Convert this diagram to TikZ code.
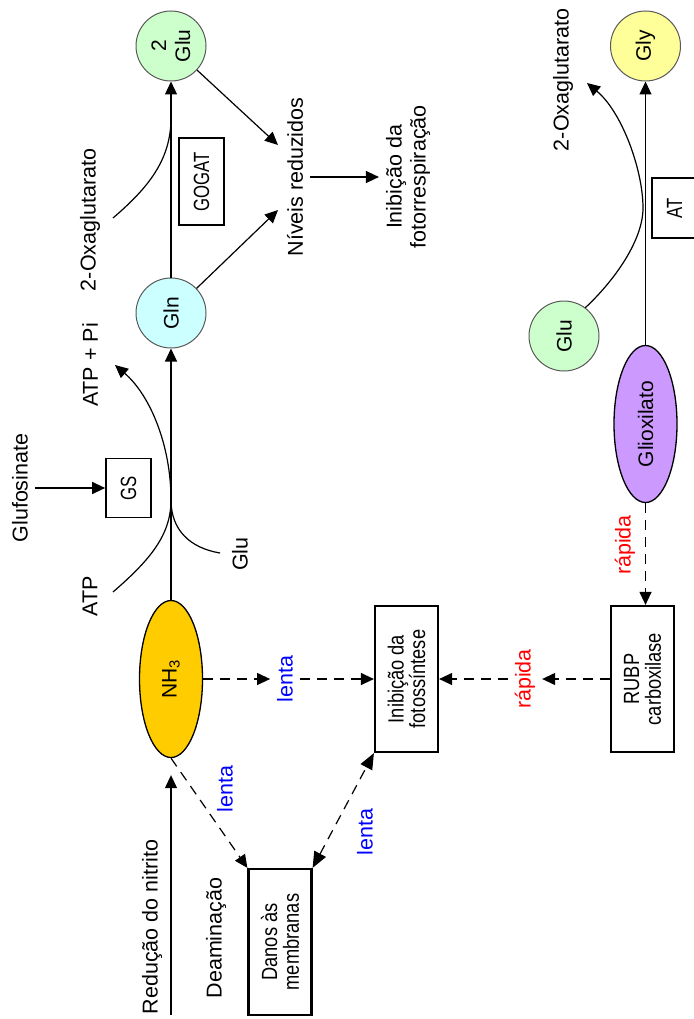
\documentclass[tikz,border=0pt]{standalone}
\usepackage{fontspec}
\setmainfont{Liberation Sans}
\newfontfamily\boxfont[FakeStretch=0.83]{Liberation Sans}
\newfontfamily\enzfont[FakeStretch=0.76]{Liberation Sans}
\usetikzlibrary{arrows.meta,shapes.geometric}
\definecolor{gluGreen}{HTML}{CCFFCC}
\definecolor{glnCyan}{HTML}{CCFFFF}
\definecolor{glyYellow}{HTML}{FFFF99}
\definecolor{nhGold}{HTML}{FFCC00}
\definecolor{glxViolet}{HTML}{CC99FF}
\begin{document}
\begin{tikzpicture}[x=1pt,y=-1pt]
      \tikzstyle{txt} = [rotate=90, inner sep=0pt, outer sep=7pt, align=center, font=\fontsize{21.5}{24}\selectfont]
      \tikzstyle{slow} = [txt, text=blue]
      \tikzstyle{fast} = [txt, text=red]
      \tikzstyle{metab} = [circle, rotate=90, minimum size=70pt, inner sep=0pt, draw=black!65, line width=1pt, align=center, font=\fontsize{21}{24}\selectfont]
      \tikzstyle{pool} = [ellipse, rotate=90, minimum width=157pt, minimum height=63pt, inner sep=0pt, draw=black, line width=1.3pt, font=\fontsize{21}{24}\selectfont]
      \tikzstyle{bigbox} = [rectangle, rotate=90, minimum width=146pt, minimum height=63pt, inner sep=0pt, draw=black, line width=2.2pt, align=center, font=\boxfont\fontsize{22}{21.7}\selectfont]
      \tikzstyle{enzyme} = [rectangle, rotate=90, minimum height=45pt, inner sep=0pt, draw=black, line width=1.7pt, font=\enzfont\fontsize{22}{22}\selectfont]
      \tikzstyle{arrow} = [line width=1.2pt, -{Triangle[length=13pt,width=12pt]}]
      \tikzstyle{dasharrow} = [arrow, dash pattern=on 10pt off 7pt]

      \useasboundingbox (0,0) rectangle (693,1019);

      % GS / GOGAT cycle
      \node (glu2) [metab, fill=gluGreen] at (171,46) {2\\Glu};
      \node (gln) [metab, fill=glnCyan] at (171,313) {Gln};
      \node (nh3) [pool, fill=nhGold] at (171,679) {NH\textsubscript{3}};
      \node (gs) [enzyme, minimum width=59pt] at (128.5,488) {GS};
      \node (gogat) [enzyme, minimum width=87pt] at (201.5,181.5) {GOGAT};
      \node (glufos) [txt] at (20,488) {Glufosinate};
      \node (atp) [txt] at (90,596) {ATP};
      \node (atppi) [txt] at (90,365) {ATP + Pi};
      \node (glu) [txt] at (240,554) {Glu};
      \node (oxo1) [txt] at (90,220) {2-Oxaglutarato};
      \node (niveis) [txt] at (295,177) {Níveis reduzidos};
      \node (fotoresp) [txt] at (408,177) {Inibição da\\fotorrespiração};

      \coordinate (atpin) at (113,592);
      \coordinate (atpout) at (115,365);
      \coordinate (gsmid) at (171,500);
      \coordinate (gluin) at (220,553);
      \coordinate (oxo1in) at (113,218);
      \coordinate (gogatmid) at (171,118);
      \coordinate (nivin1) at (278,145);
      \coordinate (nivin2) at (278,210);
      \coordinate (nitstart) at (171,1015);

      \draw [arrow] (glufos) -- (gs);
      \draw [arrow] (nh3) -- (gln);
      \draw [arrow] (gln) -- (glu2);
      \draw [arrow] (glu2) -- (nivin1);
      \draw [arrow] (gln) -- (nivin2);
      \draw [arrow] (niveis) -- (fotoresp);
      \draw [arrow, shorten >=17pt] (nitstart) -- (nh3);

      \draw [arrow] (atpin) .. controls (150,560) and (171,535) .. (gsmid) .. controls (171,445) and (150,395) .. (atpout);
      \draw [line width=1.2pt] (gluin) .. controls (190,548) and (171,530) .. (gsmid);
      \draw [line width=1.2pt] (oxo1in) .. controls (148,188) and (171,160) .. (gogatmid);

      % glyoxylate side
      \node (gly) [metab, fill=glyYellow] at (645.5,46) {Gly};
      \node (glur) [metab, fill=gluGreen] at (564,336) {Glu};
      \node (glyox) [pool, fill=glxViolet] at (645.5,424) {Glioxilato};
      \node (atbox) [enzyme, minimum width=60pt] at (674.5,208) {AT};
      \node (oxo2) [txt] at (563,80) {2-Oxaglutarato};
      \node (rubp) [bigbox] at (642.5,679) {RUBP\\carboxilase};

      \coordinate (atmid) at (643,208);
      \coordinate (oxo2in) at (587,83);

      \draw [arrow] (glyox) -- (gly);
      \draw [arrow] (glur.-37) .. controls (615,280) and (643,240) .. (atmid) .. controls (643,170) and (622,112) .. (oxo2in);

      % effects
      \node (fotossint) [bigbox] at (406.5,679) {Inibição da\\fotossíntese};
      \node (danos) [bigbox] at (280,942) {Danos às\\membranas};
      \node (nitrito) [txt] at (152,927) {Redução do nitrito};
      \node (deamin) [txt] at (216,938) {Deaminação};
      \node (lenta1) [slow] at (285,679) {lenta};
      \node (lenta2) [slow] at (225,789) {lenta};
      \node (lenta3) [slow] at (365,832) {lenta};
      \node (rapida1) [fast] at (525,679) {rápida};
      \node (rapida2) [fast] at (625,545) {rápida};

      \draw [dasharrow] (nh3) -- (lenta1);
      \draw [dasharrow] (lenta1) -- (fotossint);
      \draw [dasharrow] (rubp) -- (rapida1);
      \draw [dasharrow] (rapida1) -- (fotossint);
      \draw [dasharrow] (glyox) -- (glyox |- rubp.east);
      \draw [dasharrow] (nh3.west) -- (danos.north east);
      \draw [dasharrow, {Triangle[length=16pt,width=13pt]}-{Triangle[length=16pt,width=13pt]}] (danos.south east) -- (fotossint.north west);
\end{tikzpicture}
\end{document}
